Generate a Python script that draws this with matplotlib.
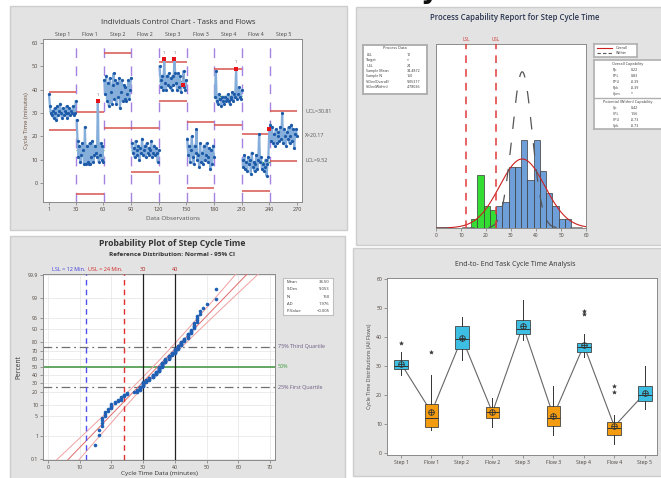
import numpy as np
import matplotlib
matplotlib.use('Agg')
import matplotlib.pyplot as plt
from matplotlib.patches import Rectangle
import matplotlib.transforms as mtransforms
from statistics import NormalDist

plt.rcParams['font.family'] = ['Open Sans', 'DejaVu Sans']

# ---------------- data ----------------
seg_names = ["Step 1", "Flow 1", "Step 2", "Flow 2", "Step 3", "Flow 3", "Step 4", "Flow 4", "Step 5"]
step1 = [38, 33, 30, 29, 31, 28, 32, 30, 27, 33, 29, 31, 34, 30, 28, 32, 29, 31, 30, 33, 28, 30, 32, 29, 31, 30, 33, 29, 30, 35]
flow1 = [27, 18, 11, 16, 9, 12, 17, 14, 8, 24, 8, 16, 9, 8, 17, 8, 11, 18, 9, 12, 16, 13, 11, 35, 9, 12, 17, 10, 16, 9]
step2 = [44, 38, 46, 35, 43, 33, 45, 39, 34, 42, 47, 36, 44, 34, 43, 37, 45, 32, 39, 44, 35, 42, 36, 41, 35, 38, 44, 36, 40, 45]
flow2 = [17, 13, 15, 11, 18, 14, 12, 16, 10, 15, 13, 19, 12, 14, 16, 11, 17, 13, 15, 12, 14, 18, 11, 13, 16, 12, 15, 13, 9, 14]
step3 = [50, 44, 41, 46, 40, 53, 43, 40, 46, 42, 47, 41, 45, 40, 46, 42, 53, 47, 43, 40, 47, 41, 46, 39, 42, 42, 48, 41, 40, 44]
flow3 = [19, 12, 16, 9, 14, 20, 11, 8, 16, 13, 23, 10, 12, 7, 17, 9, 13, 8, 16, 10, 12, 17, 9, 11, 15, 6, 14, 8, 16, 11]
step4 = [37, 48, 35, 34, 38, 36, 36, 33, 37, 35, 34, 37, 35, 36, 38, 35, 34, 37, 36, 39, 35, 38, 37, 49, 36, 38, 41, 37, 36, 40]
flow4 = [10, 7, 12, 6, 9, 5, 11, 8, 10, 4, 13, 7, 9, 5, 8, 12, 6, 10, 21, 9, 11, 6, 8, 5, 7, 10, 3, 8, 11, 23]
step5 = [25, 18, 24, 17, 21, 16, 23, 17, 20, 22, 18, 24, 19, 30, 17, 23, 20, 16, 22, 19, 24, 17, 20, 25, 18, 23, 15, 21, 23, 20]
segments = [step1, flow1, step2, flow2, step3, flow3, step4, flow4, step5]

ucl = [39.0, 30.5, 56.0, 23.6, 52.0, 26.0, 49.0, 21.0, 30.8]
lcl = [22.7, -4.7, 23.6, 4.7, 35.0, -2.0, 25.0, -3.4, 9.5]
red_obs = [54, 126, 137, 146, 204, 240]
last_stage_labels = ["UCL=30.81", "X\u0304=20.17", "LCL=9.52"]

# capability histogram (bin counts)
hist_edges = [14, 16.5, 19, 21.5, 24, 26.5, 29, 31.5, 34, 36.5, 39, 41.5, 44, 46.5, 49, 51.5, 54]
hist_counts = [2, 12, 5, 4, 5, 6, 14, 14, 20, 11, 20, 13, 8, 5, 2, 2]
LSL, USL = 12, 24
cap_mean, sd_overall, sd_within = 34.4872, 9.05317, 4.0
process_data = [("LSL", "12"), ("Target", "*"), ("USL", "24"), ("Sample Mean", "34.4872"),
                ("Sample N", "150"), ("StDev(Overall)", "9.05317"), ("StDev(Within)", "4.78036")]
overall_cap = [("Pp", "0.22"), ("PPL", "0.83"), ("PPU", "-0.39"), ("Ppk", "-0.39"), ("Cpm", "*")]
within_cap = [("Cp", "0.42"), ("CPL", "1.56"), ("CPU", "-0.73"), ("Cpk", "-0.73")]

prob_ticks = [0.1, 1, 5, 10, 20, 30, 40, 50, 60, 70, 80, 90, 95, 99, 99.9]
prob_mean, prob_sd, prob_n = 34.50, 9.053, 150
prob_stats = [("Mean", "34.50"), ("StDev", "9.053"), ("N", "150"), ("AD", "1.976"), ("P-Value", "<0.005")]

box_labels = ["Step 1", "Flow 1", "Step 2", "Flow 2", "Step 3", "Flow 3", "Step 4", "Flow 4", "Step 5"]

# ---------------- figure ----------------
W, H = 661, 478
fig = plt.figure(figsize=(W / 100, H / 100), dpi=100)
fig.patch.set_facecolor('white')
nd = NormalDist()

def add_ax(x0, y0, x1, y1):
    return fig.add_axes([x0 / W, 1 - y1 / H, (x1 - x0) / W, (y1 - y0) / H])

def panel(x0, y0, x1, y1):
    fig.add_artist(Rectangle((x0 / W, 1 - y1 / H), (x1 - x0) / W, (y1 - y0) / H,
                             transform=fig.transFigure, facecolor='#e3e3e3',
                             edgecolor='#cdcdcd', lw=1, zorder=-5))

def fx(x):
    return x / W

def fy(y):
    return 1 - y / H

panel(10, 6, 347, 230)
panel(356, 7, 663, 245)
panel(10, 236, 345, 480)
panel(353, 248, 663, 476)

fig.text(fx(430), fy(-2), 'y', fontsize=20, fontweight='bold', ha='center', va='baseline',
         family='DejaVu Sans', color='#111')

tick_col = '#4a4038'

def style_axes(ax, fs=4):
    for s in ax.spines.values():
        s.set_color('#8a8a8a')
        s.set_linewidth(0.7)
    ax.tick_params(labelsize=fs, colors='#777', labelcolor=tick_col, length=2, width=0.5, pad=1.5)

# ---------------- top-left: control chart ----------------
ax1 = add_ax(43, 39, 302, 202)
ax1.set_facecolor('white')
ax1.set_xlim(-5.5, 275.5)
ax1.set_ylim(-8.2, 61.8)
blend_top = mtransforms.blended_transform_factory(ax1.transData, ax1.transAxes)
blend_right = mtransforms.blended_transform_factory(ax1.transAxes, ax1.transData)
start = 1
all_vals = []
for i, seg in enumerate(segments):
    n = len(seg)
    x = np.arange(start, start + n)
    xs, xe = start - 0.5, start + n - 0.5
    ax1.hlines([ucl[i], lcl[i]], xs, xe, color='#d9534f', lw=1.1, zorder=2)
    ax1.hlines(np.mean(seg), xs, xe, color='#3aa845', lw=0.9, zorder=2)
    ax1.plot(x, seg, color='#86aedb', lw=1.6, zorder=3)
    ax1.plot(x, seg, 'o', color='#1d5ba8', ms=2.3, mew=0, zorder=4)
    if i > 0:
        ax1.axvline(xs, color='#a483e2', lw=1.0, dashes=(7, 6), zorder=1)
    ax1.text((xs + xe) / 2, 1.012, seg_names[i], transform=blend_top, ha='center', va='bottom',
             fontsize=3.8, color='#444')
    all_vals.extend(seg)
    start += n
all_vals = np.array(all_vals)
for o in red_obs:
    ax1.plot(o, all_vals[o - 1], 's', color='#e8141b', ms=3.3, mew=0, zorder=6)
    ax1.text(o, all_vals[o - 1] + 2.0, '1', fontsize=2.8, color='#555', ha='center', va='bottom', zorder=6)
for lab, val in zip(last_stage_labels, [ucl[8], np.mean(step5), lcl[8]]):
    ax1.text(1.012, val, lab, transform=blend_right, fontsize=3.8, color='#555', va='center', ha='left')
ax1.set_xticks([1, 30, 60, 90, 120, 150, 180, 210, 240, 270])
ax1.set_yticks([0, 10, 20, 30, 40, 50, 60])
style_axes(ax1)
ax1.set_ylabel('Cycle Time (minutes)', fontsize=4.2, color='#6a5040', labelpad=2)
ax1.set_xlabel('Data Observations', fontsize=4.5, color='#555', labelpad=3)
fig.text(fx(178), fy(22), 'Individuals Control Chart - Tasks and Flows', fontsize=5.6,
         ha='center', va='center', color='#333')

# ---------------- top-right: capability ----------------
ax2 = add_ax(436, 44, 586, 228)
ax2.set_facecolor('white')
edges = np.array(hist_edges)
counts = np.array(hist_counts)
colors = ['#33dd33' if e <= USL else '#6f9fd9' for e in edges[1:]]
ax2.bar(edges[:-1], counts, width=np.diff(edges), align='edge', color=colors,
        edgecolor='#3a3a3a', lw=0.5, zorder=2)
bw = edges[1] - edges[0]
ntot = counts.sum()
xx = np.linspace(0, 60, 400)
ax2.plot(xx, ntot * bw * np.exp(-0.5 * ((xx - cap_mean) / sd_overall) ** 2) / (sd_overall * np.sqrt(2 * np.pi)),
         color='#cc2020', lw=0.8, zorder=3)
ax2.plot(xx, ntot * bw * np.exp(-0.5 * ((xx - cap_mean) / sd_within) ** 2) / (sd_within * np.sqrt(2 * np.pi)),
         color='#555', lw=0.9, dashes=(10, 11), zorder=3)
for v, lab in [(LSL, 'LSL'), (USL, 'USL')]:
    ax2.axvline(v, color='#e03a3a', lw=1.1, dashes=(5, 4), zorder=4)
    ax2.text(v, 1.01, lab, transform=mtransforms.blended_transform_factory(ax2.transData, ax2.transAxes),
             fontsize=3.3, color='#d03030', ha='center', va='bottom')
ax2.set_xlim(0, 60)
ax2.set_ylim(0, 42)
ax2.set_yticks([])
ax2.set_xticks([0, 10, 20, 30, 40, 50, 60])
style_axes(ax2, fs=3.5)
fig.text(fx(515), fy(17), 'Process Capability Report for Step Cycle Time', fontsize=5.6,
         ha='center', va='center', color='#2a3550', fontweight='semibold')

# process data box
pd_ax = add_ax(363, 45, 427, 94)
pd_ax.set_xticks([]); pd_ax.set_yticks([])
for s in pd_ax.spines.values():
    s.set_color('#b0b0b0'); s.set_linewidth(1.4)
pd_ax.set_xlim(0, 1); pd_ax.set_ylim(0, 1)
pd_ax.text(0.5, 0.93, 'Process Data', fontsize=2.8, ha='center', va='center', color='#333')
for k, (a, b) in enumerate(process_data):
    yk = 0.80 - k * 0.11
    pd_ax.text(0.05, yk, a, fontsize=2.6, va='center', color='#333')
    pd_ax.text(0.68, yk, b, fontsize=2.6, va='center', color='#333')

# legend box
lg_ax = add_ax(594, 44, 637, 57)
lg_ax.set_xticks([]); lg_ax.set_yticks([])
for s in lg_ax.spines.values():
    s.set_color('#b0b0b0'); s.set_linewidth(1.2)
lg_ax.set_xlim(0, 1); lg_ax.set_ylim(0, 1)
lg_ax.plot([0.08, 0.42], [0.68, 0.68], color='#cc2020', lw=0.8)
lg_ax.plot([0.08, 0.42], [0.3, 0.3], color='#555', lw=0.8, dashes=(3, 2))
lg_ax.text(0.5, 0.68, 'Overall', fontsize=2.6, va='center', color='#333')
lg_ax.text(0.5, 0.3, 'Within', fontsize=2.6, va='center', color='#333')

# capability stats box
cap_ax = add_ax(594, 60, 668, 129)
cap_ax.set_xticks([]); cap_ax.set_yticks([])
for s in cap_ax.spines.values():
    s.set_color('#b0b0b0'); s.set_linewidth(1.2)
cap_ax.set_xlim(0, 1); cap_ax.set_ylim(0, 1)
cap_ax.axhline(0.45, color='#b0b0b0', lw=1)
cap_ax.text(0.45, 0.94, 'Overall Capability', fontsize=2.7, ha='center', va='center', color='#333')
for k, (a, b) in enumerate(overall_cap):
    yk = 0.85 - k * 0.085
    cap_ax.text(0.25, yk, a, fontsize=2.6, va='center', color='#333')
    cap_ax.text(0.5, yk, b, fontsize=2.6, va='center', color='#333')
cap_ax.text(0.45, 0.39, 'Potential (Within) Capability', fontsize=2.7, ha='center', va='center', color='#333')
for k, (a, b) in enumerate(within_cap):
    yk = 0.30 - k * 0.085
    cap_ax.text(0.25, yk, a, fontsize=2.6, va='center', color='#333')
    cap_ax.text(0.5, yk, b, fontsize=2.6, va='center', color='#333')

# ---------------- bottom-left: probability plot ----------------
ax3 = add_ax(43, 274, 275, 460)
ax3.set_facecolor('white')
steps_all = np.concatenate([step1, step2, step3, step4, step5])
srt = np.sort(steps_all)
n = len(srt)
pp = (np.arange(1, n + 1) - 0.3) / (n + 0.4)
zq = np.array([nd.inv_cdf(v) for v in pp])
zz = np.linspace(-3.6, 3.6, 200)
half = 1.96 * prob_sd * np.sqrt((1 + zz ** 2 / 2) / prob_n)
ax3.plot(prob_mean + prob_sd * zz, zz, color='#e06a6a', lw=0.7, zorder=3)
ax3.plot(prob_mean + prob_sd * zz - half, zz, color='#f0a0a0', lw=0.7, zorder=3)
ax3.plot(prob_mean + prob_sd * zz + half, zz, color='#f0a0a0', lw=0.7, zorder=3)
ax3.plot(srt, zq, 'o', color='#1f5fb4', ms=2.6, mew=0, zorder=5)
ax3.set_xlim(-1.5, 71.5)
ax3.set_ylim(-3.12, 3.12)
ax3.set_yticks([nd.inv_cdf(p / 100) for p in prob_ticks])
ax3.set_yticklabels([('%g' % p) for p in prob_ticks])
ax3.set_xticks([0, 10, 20, 30, 40, 50, 60, 70])
ax3.grid(True, color='#e4e4e4', lw=0.5, zorder=0)
ax3.set_axisbelow(True)
style_axes(ax3, fs=3.8)
btr = mtransforms.blended_transform_factory(ax3.transAxes, ax3.transData)
btt = mtransforms.blended_transform_factory(ax3.transData, ax3.transAxes)
q_lines = [(0.75, '75% Third Quartile', '#6a5a80', (7, 3, 1.5, 3)), (0.50, '50%', '#3a9a3a', None),
           (0.25, '25% First Quartile', '#6a5a80', (7, 3, 1.5, 3))]
for q, lab, col, dsh in q_lines:
    zqv = nd.inv_cdf(q)
    if dsh:
        ax3.axhline(zqv, color='#707070', lw=0.9, dashes=dsh, zorder=2)
    else:
        ax3.axhline(zqv, color='#4a9a4a', lw=1.2, zorder=2)
    ax3.text(1.012, zqv, lab, transform=btr, fontsize=3.9, color=col, va='center', ha='left')
ax3.axvline(LSL, color='#5050ee', lw=1.0, dashes=(4, 3), zorder=4)
ax3.axvline(USL, color='#e03030', lw=1.0, dashes=(4, 3), zorder=4)
ax3.axvline(30, color='#222', lw=0.9, zorder=4)
ax3.axvline(40, color='#222', lw=0.9, zorder=4)
ax3.text(11.8, 1.01, 'LSL = 12 Min.', transform=btt, fontsize=4, color='#4040dd', ha='right', va='bottom')
ax3.text(12.7, 1.01, 'USL = 24 Min.', transform=btt, fontsize=4, color='#d02828', ha='left', va='bottom')
ax3.text(30, 1.01, '30', transform=btt, fontsize=4, color='#b02020', ha='center', va='bottom')
ax3.text(40, 1.01, '40', transform=btt, fontsize=4, color='#b02020', ha='center', va='bottom')
ax3.set_ylabel('Percent', fontsize=4.8, color='#333', labelpad=4)
ax3.set_xlabel('Cycle Time Data (minutes)', fontsize=4.6, color='#333', labelpad=0.5)
fig.text(fx(172), fy(243), 'Probability Plot of Step Cycle Time', fontsize=6.2, fontweight='bold',
         ha='center', va='center', color='#333')
fig.text(fx(172), fy(254), 'Reference Distribution: Normal - 95% CI', fontsize=4.6, fontweight='bold',
         ha='center', va='center', color='#333')
st_ax = add_ax(283, 278, 333, 315)
st_ax.set_xticks([]); st_ax.set_yticks([])
for s in st_ax.spines.values():
    s.set_color('#c0c0c0'); s.set_linewidth(0.8)
st_ax.set_xlim(0, 1); st_ax.set_ylim(0, 1)
for k, (a, b) in enumerate(prob_stats):
    yk = 0.88 - k * 0.19
    st_ax.text(0.08, yk, a, fontsize=3.0, va='center', color='#333')
    st_ax.text(0.93, yk, b, fontsize=3.0, va='center', ha='right', color='#333')

# ---------------- bottom-right: box plot ----------------
ax4 = add_ax(387, 278, 657, 455)
ax4.set_facecolor('white')
pos = np.arange(1, len(segments) + 1)
means = [np.mean(d) for d in segments]
ax4.plot(pos, means, color='#666', lw=0.8, zorder=1)
bp = ax4.boxplot(segments, positions=pos, widths=0.45, patch_artist=True, showcaps=False,
                 flierprops=dict(marker='*', ms=3, mfc='#333', mec='#333', mew=0.3),
                 medianprops=dict(color='#333', lw=0.7),
                 whiskerprops=dict(color='#333', lw=0.7),
                 boxprops=dict(edgecolor='#444', lw=0.6), zorder=2)
for i, patch in enumerate(bp['boxes']):
    patch.set_facecolor('#3cbfe2' if i % 2 == 0 else '#f39c12')
ax4.plot(pos, means, 'o', mfc='none', mec='#333', ms=4, mew=0.6, zorder=4)
ax4.plot(pos, means, '+', color='#333', ms=4, mew=0.6, zorder=4)
ax4.set_xlim(0.54, 9.4)
ax4.set_ylim(-0.8, 60.5)
ax4.set_yticks([0, 10, 20, 30, 40, 50, 60])
ax4.set_xticks(pos)
ax4.set_xticklabels(box_labels)
style_axes(ax4, fs=3.7)
ax4.set_ylabel('Cycle Time Distributions (All Flows)', fontsize=3.8, color='#444', labelpad=3)
fig.text(fx(515), fy(265), 'End-to- End Task Cycle Time Analysis', fontsize=5.0,
         ha='center', va='center', color='#333')

fig.savefig('out.png', dpi=100, facecolor='white')
